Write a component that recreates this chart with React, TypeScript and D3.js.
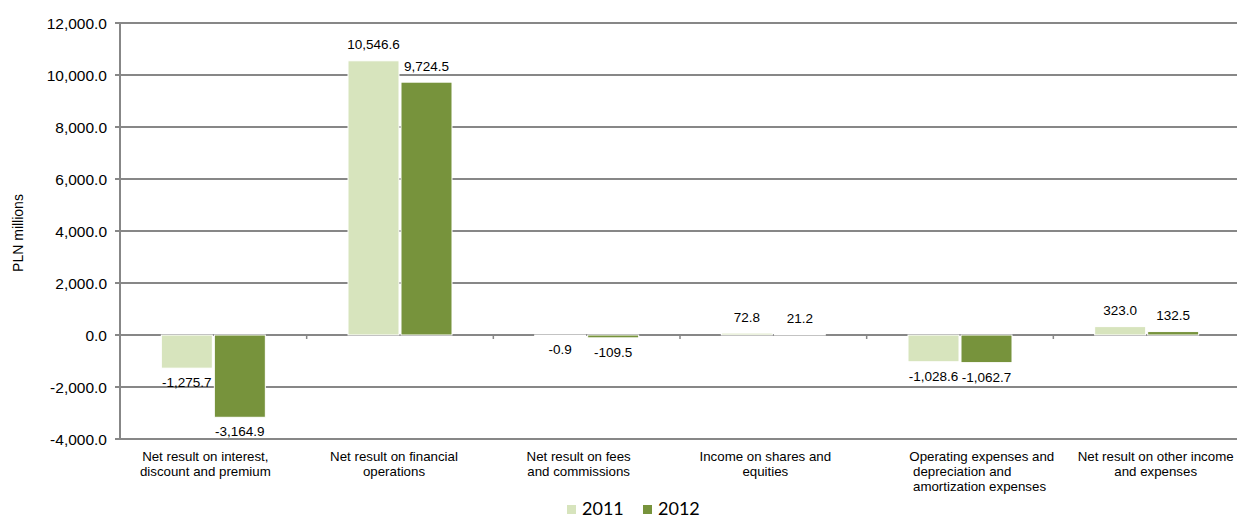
import React, { useEffect } from "react";
import * as d3 from "d3";

const categories = [
  "Net result on interest, discount and premium",
  "Net result on financial operations",
  "Net result on fees and commissions",
  "Income on shares and equities",
  "Operating expenses and depreciation and amortization expenses",
  "Net result on other income and expenses",
];
const categoryLines = [
  ["Net result on interest,", "discount and premium"],
  ["Net result on financial", "operations"],
  ["Net result on fees", "and commissions"],
  ["Income on shares and", "equities"],
  ["Operating expenses and", " depreciation and", " amortization expenses"],
  ["Net result on other income", "and expenses"],
];
const seriesNames = ["2011", "2012"];
const values2011 = [-1275.7, 10546.6, -0.9, 72.8, -1028.6, 323.0];
const values2012 = [-3164.9, 9724.5, -109.5, 21.2, -1062.7, 132.5];
const yTicks = [-4000, -2000, 0, 2000, 4000, 6000, 8000, 10000, 12000];
const seriesColors = ["#D7E4BD", "#77933C"];
const yTitle = "PLN millions";

const W = 1237;
const H = 519;
const FONT = "'Liberation Sans', Arial, sans-serif";

export default function App() {
  useEffect(() => {
    document.body.style.margin = "0";
  }, []);

  const y = d3.scaleLinear().domain([-4000, 12000]).range([439, 23]);
  const x0 = d3.scaleBand<string>().domain(categories).range([120, 1240]).padding(0);
  const x1 = d3.scaleBand<string>().domain(seriesNames).range([0, 104]).paddingInner(0.0377);
  const allValues = [values2011, values2012];
  const fmt = d3.format(",.1f");
  const fmtLabel = (v: number) => fmt(v).replace("−", "-");

  const labelDx = [-8, -6, -8, -8, 0, 9];

  return (
    <svg width={W} height={H} style={{ position: "absolute", left: 0, top: 0, background: "#fff" }}>
      {/* gridlines */}
      {yTicks.map((t) => (
        <line key={"g" + t} x1={115} x2={W} y1={y(t)} y2={y(t)} stroke="#878787" strokeWidth={2} />
      ))}
      {/* y axis line */}
      <line x1={120} x2={120} y1={y(12000) - 1} y2={y(-4000) + 1} stroke="#878787" strokeWidth={2} />
      {/* category ticks on zero line */}
      {categories.slice(1).map((c) => (
        <line key={"ct" + c} x1={x0(c)!} x2={x0(c)!} y1={y(0)} y2={y(0) + 4} stroke="#878787" strokeWidth={1.5} />
      ))}
      {/* y tick labels */}
      {yTicks.map((t) => (
        <text
          key={"yl" + t}
          x={107}
          y={y(t)}
          dy="0.36em"
          textAnchor="end"
          fontFamily={FONT}
          fontSize={15.5}
          fill="#000"
        >
          {fmtLabel(t)}
        </text>
      ))}
      {/* y title */}
      <text
        transform={`translate(23,${(y(6000) + y(2000)) / 2 + 2}) rotate(-90)`}
        textAnchor="middle"
        fontFamily={FONT}
        fontSize={14}
        fill="#000"
      >
        {yTitle}
      </text>
      {/* bars */}
      {categories.map((c, i) => {
        const gx = x0(c)! + x0.bandwidth() / 2 - 52;
        return seriesNames.map((s, si) => {
          const v = allValues[si][i];
          const bx = gx + x1(s)!;
          const top = y(Math.max(0, v));
          const bottom = y(Math.min(0, v));
          return (
            <rect
              key={c + s}
              x={bx}
              y={top}
              width={x1.bandwidth()}
              height={Math.max(0.5, bottom - top)}
              fill={seriesColors[si]}
              stroke="#ffffff"
              strokeWidth={1}
            />
          );
        });
      })}
      {/* data labels */}
      {categories.map((c, i) => {
        const gx = x0(c)! + x0.bandwidth() / 2 - 52;
        return seriesNames.map((s, si) => {
          const v = allValues[si][i];
          const cx = gx + x1(s)! + x1.bandwidth() / 2;
          const ly = v >= 0 ? y(v) - 11.5 : y(v) + 19;
          return (
            <text
              key={"dl" + c + s}
              x={cx}
              y={ly}
              textAnchor="middle"
              fontFamily={FONT}
              fontSize={13.5}
              fill="#000"
            >
              {fmtLabel(v)}
            </text>
          );
        });
      })}
      {/* category labels */}
      {categories.map((c, i) => {
        const center = x0(c)! + x0.bandwidth() / 2;
        const lines = categoryLines[i];
        const leftAligned = lines.some((l) => l.startsWith(" "));
        return lines.map((l, li) => (
          <text
            key={"cl" + c + li}
            x={leftAligned ? center - 50.7 : center + labelDx[i]}
            y={461 + li * 15}
            textAnchor={leftAligned ? "start" : "middle"}
            fontFamily={FONT}
            fontSize={13.3}
            fill="#000"
            style={{ whiteSpace: "pre" }}
          >
            {l}
          </text>
        ));
      })}
      {/* legend */}
      {seriesNames.map((s, si) => (
        <g key={"lg" + s} transform={`translate(${567 + si * 76},0)`}>
          <rect x={0} y={505} width={9} height={9} fill={seriesColors[si]} />
          <text x={15} y={515} fontFamily="Lato, 'Open Sans', sans-serif" fontSize={18} fill="#000">
            {s}
          </text>
        </g>
      ))}
    </svg>
  );
}
